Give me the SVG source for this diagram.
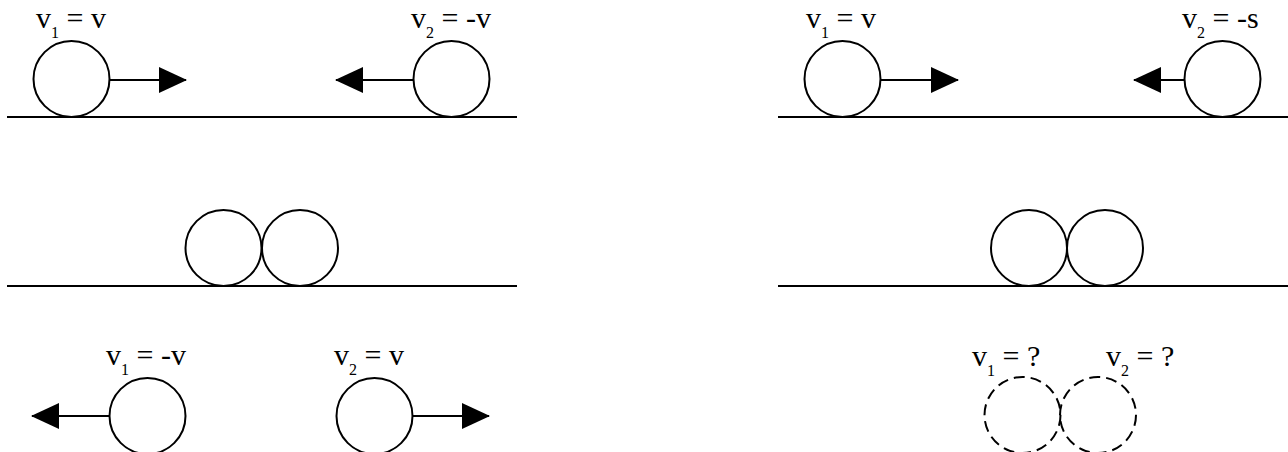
<svg xmlns="http://www.w3.org/2000/svg" width="1288" height="452" viewBox="0 0 1288 452">
<style>
.ball{fill:#fff;stroke:#000;stroke-width:2}
.ghost{fill:none;stroke:#000;stroke-width:2;stroke-dasharray:11 6}
.ground{stroke:#000;stroke-width:2}
.arrow{stroke:#000;stroke-width:2;fill:none;marker-end:url(#ah)}
.lbl{font-family:"Liberation Serif","Times New Roman",serif;font-size:30px;fill:#000}
.sub{font-size:16px}
</style>
<defs>
<marker id="ah" markerUnits="userSpaceOnUse" markerWidth="28" markerHeight="26" viewBox="0 0 28 26" refX="27" refY="13" orient="auto">
<path d="M0,0 L28,13 L0,26 Z" fill="#000"/>
</marker>
</defs>
<g id="grounds">
<line class="ground" x1="7" y1="117" x2="517" y2="117"/>
<line class="ground" x1="778" y1="117" x2="1288" y2="117"/>
<line class="ground" x1="7" y1="286" x2="517" y2="286"/>
<line class="ground" x1="778" y1="286" x2="1288" y2="286"/>
</g>
<g id="connectors">
<line class="arrow" x1="110" y1="80" x2="186" y2="80"/>
<line class="arrow" x1="413" y1="80" x2="336" y2="80"/>
<line class="arrow" x1="881" y1="80" x2="958" y2="80"/>
<line class="arrow" x1="1184" y1="80" x2="1134" y2="80"/>
<line class="arrow" x1="110" y1="416" x2="32" y2="416"/>
<line class="arrow" x1="413" y1="416" x2="489" y2="416"/>
</g>
<g id="tl-ball1"><circle class="ball" cx="71.5" cy="79" r="38"/>
<text class="lbl" x="36" y="28">v<tspan class="sub" dy="10">1</tspan><tspan dy="-10"> = v</tspan></text></g>
<g id="tl-ball2"><circle class="ball" cx="451.5" cy="79" r="38"/>
<text class="lbl" x="411" y="28">v<tspan class="sub" dy="10">2</tspan><tspan dy="-10"> = -v</tspan></text></g>
<g id="tr-ball1"><circle class="ball" cx="842.5" cy="79" r="38"/>
<text class="lbl" x="806" y="28">v<tspan class="sub" dy="10">1</tspan><tspan dy="-10"> = v</tspan></text></g>
<g id="tr-ball2"><circle class="ball" cx="1222.5" cy="79" r="38"/>
<text class="lbl" x="1182" y="28">v<tspan class="sub" dy="10">2</tspan><tspan dy="-10"> = -s</tspan></text></g>
<g id="ml-ball1"><circle class="ball" cx="223.5" cy="248" r="38"/></g>
<g id="ml-ball2"><circle class="ball" cx="300" cy="248" r="38"/></g>
<g id="mr-ball1"><circle class="ball" cx="1029" cy="248" r="38"/></g>
<g id="mr-ball2"><circle class="ball" cx="1105" cy="248" r="38"/></g>
<g id="bl-ball1"><circle class="ball" cx="147.5" cy="416" r="38"/>
<text class="lbl" x="106" y="365">v<tspan class="sub" dy="10">1</tspan><tspan dy="-10"> = -v</tspan></text></g>
<g id="bl-ball2"><circle class="ball" cx="374.5" cy="416" r="38"/>
<text class="lbl" x="334" y="365">v<tspan class="sub" dy="10">2</tspan><tspan dy="-10"> = v</tspan></text></g>
<g id="br-ball1"><circle class="ghost" cx="1022.5" cy="415" r="38"/>
<text class="lbl" x="972" y="366">v<tspan class="sub" dy="10">1</tspan><tspan dy="-10"> = ?</tspan></text></g>
<g id="br-ball2"><circle class="ghost" cx="1098" cy="415" r="38"/>
<text class="lbl" x="1106" y="366">v<tspan class="sub" dy="10">2</tspan><tspan dy="-10"> = ?</tspan></text></g>
</svg>
